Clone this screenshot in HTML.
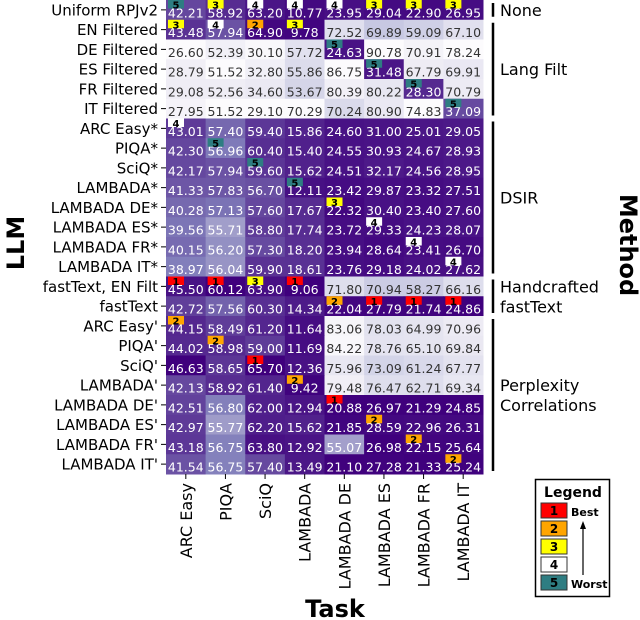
<!DOCTYPE html>
<html><head><meta charset="utf-8"><style>
body{margin:0;background:#fff;}
svg{display:block;font-family:"DejaVu Sans","Liberation Sans",sans-serif;}
</style></head><body>
<svg id="chart" width="640" height="620" viewBox="0 0 640 620"></svg>
<script>
const tasks=["ARC Easy","PIQA","SciQ","LAMBADA","LAMBADA DE","LAMBADA ES","LAMBADA FR","LAMBADA IT"];
const higherBetter=[true,true,true,false,false,false,false,false];
const models=["Uniform RPJv2","EN Filtered","DE Filtered","ES Filtered","FR Filtered","IT Filtered","ARC Easy*","PIQA*","SciQ*","LAMBADA*","LAMBADA DE*","LAMBADA ES*","LAMBADA FR*","LAMBADA IT*","fastText, EN Filt","fastText","ARC Easy'","PIQA'","SciQ'","LAMBADA'","LAMBADA DE'","LAMBADA ES'","LAMBADA FR'","LAMBADA IT'"];
const values=[
[42.21,58.92,63.20,10.77,23.95,29.04,22.90,26.95],
[43.48,57.94,64.90,9.78,72.52,69.89,59.09,67.10],
[26.60,52.39,30.10,57.72,24.63,90.78,70.91,78.24],
[28.79,51.52,32.80,55.86,86.75,31.48,67.79,69.91],
[29.08,52.56,34.60,53.67,80.39,80.22,28.30,70.79],
[27.95,51.52,29.10,70.29,70.24,80.90,74.83,37.09],
[43.01,57.40,59.40,15.86,24.60,31.00,25.01,29.05],
[42.30,56.96,60.40,15.40,24.55,30.93,24.67,28.93],
[42.17,57.94,59.60,15.62,24.51,32.17,24.56,28.95],
[41.33,57.83,56.70,12.11,23.42,29.87,23.32,27.51],
[40.28,57.13,57.60,17.67,22.32,30.40,23.40,27.60],
[39.56,55.71,58.80,17.74,23.72,29.33,24.23,28.07],
[40.15,56.20,57.30,18.20,23.94,28.64,23.41,26.70],
[38.97,56.04,59.90,18.61,23.76,29.18,24.02,27.62],
[45.50,60.12,63.90,9.06,71.80,70.94,58.27,66.16],
[42.72,57.56,60.30,14.34,22.04,27.79,21.74,24.86],
[44.15,58.49,61.20,11.64,83.06,78.03,64.99,70.96],
[44.02,58.98,59.00,11.69,84.22,78.76,65.10,69.84],
[46.63,58.65,65.70,12.36,75.96,73.09,61.24,67.77],
[42.13,58.92,61.40,9.42,79.48,76.47,62.71,69.34],
[42.51,56.80,62.00,12.94,20.88,26.97,21.29,24.85],
[42.97,55.77,62.20,15.62,21.85,28.59,22.96,26.31],
[43.18,56.75,63.80,12.92,55.07,26.98,22.15,25.64],
[41.54,56.75,57.40,13.49,21.10,27.28,21.33,25.24]];
// badges: [row, col, rank]
const badges=[[0,0,5],[0,1,3],[0,2,4],[0,3,4],[0,4,4],[0,5,3],[0,6,3],[0,7,3],
[1,0,3],[1,1,4],[1,2,2],[1,3,3],[2,4,5],[3,5,5],[4,6,5],[5,7,5],
[6,0,4],[7,1,5],[8,2,5],[9,3,5],[10,4,3],[11,5,4],[12,6,4],[13,7,4],
[14,0,1],[14,1,1],[14,2,3],[14,3,1],[15,4,2],[15,5,1],[15,6,1],[15,7,1],
[16,0,2],[17,1,2],[18,2,1],[19,3,2],[20,4,1],[21,5,2],[22,6,2],[23,7,2]];
const groups=[["None",0,0],["Lang Filt",1,5],["DSIR",6,13],["Handcrafted\nfastText",14,15],["Perplexity\nCorrelations",16,23]];
const rankColors={1:"#ff0000",2:"#ffa500",3:"#ffff00",4:"#ffffff",5:"#2e7d82"};

const NS="http://www.w3.org/2000/svg";
const svg=document.getElementById('chart');
const X0=166,X1=483,Y0=0,Y1=474;
const cw=(X1-X0)/tasks.length, rh=(Y1-Y0)/models.length;
const xPos=i=>X0+i*cw, yPos=j=>Y0+j*rh;
function el(tag,attrs,parent){const e=document.createElementNS(NS,tag);for(const k in attrs)e.setAttribute(k,attrs[k]);(parent||svg).appendChild(e);return e;}
const stops=["#fcfbfd","#efedf5","#dadaeb","#bcbddc","#9e9ac8","#807dba","#6a51a3","#54278f","#3f007d"];
function hex(c){return [1,3,5].map(i=>parseInt(c.substr(i,2),16));}
function cmap(t){t=Math.max(0,Math.min(1,t));const p=t*(stops.length-1);const i=Math.min(stops.length-2,Math.floor(p));const f=p-i;const a=hex(stops[i]),b=hex(stops[i+1]);return "rgb("+a.map((v,k)=>Math.round(v+(b[k]-v)*f)).join(",")+")";}
const colMin=tasks.map((_,c)=>Math.min(...values.map(r=>r[c])));
const colMax=tasks.map((_,c)=>Math.max(...values.map(r=>r[c])));
function norm(v,c){const t=(v-colMin[c])/(colMax[c]-colMin[c]);return higherBetter[c]?t:1-t;}

const gCells=el('g',{});


values.forEach((row,r)=>row.forEach((v,c)=>{
  const t=norm(v,c);
  const rect=el('rect',{x:xPos(c),y:yPos(r),width:cw+0.5,height:rh+0.5,fill:cmap(t)},gCells);
  
  
  const tx=el('text',{x:xPos(c)+cw/2,y:yPos(r)+rh-2.5,'text-anchor':'middle','font-size':12.5,fill:t>0.4?'#ffffff':'#333333'},gCells);
  
  
  tx.textContent=v.toFixed(2);
}));
badges.forEach(([r,c,k])=>{
  const g=el('g',{});
  
  
  el('rect',{x:xPos(c)+2,y:yPos(r),width:16,height:8.5,fill:rankColors[k]},g);
  const t=el('text',{x:xPos(c)+10,y:yPos(r)+8.5,'text-anchor':'middle','font-size':10,'font-weight':'bold',fill:'#000'},g);
  t.textContent=k;
});
// y axis labels
models.forEach((m,r)=>{
  const yc=yPos(r)+rh/2;
  el('line',{x1:161,x2:166,y1:yc,y2:yc,stroke:'#000','stroke-width':1});
  const t=el('text',{x:158,y:yc+5.5,'text-anchor':'end','font-size':15,fill:'#000'});
  
  
  t.textContent=m;
});
// x axis labels
tasks.forEach((n,c)=>{
  const xc=xPos(c)+cw/2;
  el('line',{x1:xc,x2:xc,y1:474,y2:479,stroke:'#000','stroke-width':1});
  const t=el('text',{x:0,y:0,'text-anchor':'end','font-size':16,fill:'#000',transform:`translate(${xc+6},483) rotate(-90)`});
  
  
  t.textContent=n;
});
// groups
groups.forEach(([name,a,b])=>{
  const g=el('g',{});
  
  
  el('line',{x1:493,x2:493,y1:yPos(a)+3,y2:yPos(b+1)-3,stroke:'#000','stroke-width':2.5},g);
  const lines=name.split('\n');const yc=(yPos(a)+yPos(b+1))/2;
  lines.forEach((ln,i)=>{const t=el('text',{x:500,y:yc+6+(i-(lines.length-1)/2)*20,'font-size':16,fill:'#000'},g);t.textContent=ln;});
});
const tl=el('text',{x:0,y:0,'text-anchor':'middle','font-size':24,'font-weight':'bold',transform:'translate(24,243) rotate(-90)'});
tl.textContent='LLM';
const tt=el('text',{x:335,y:617,'text-anchor':'middle','font-size':24,'font-weight':'bold'});
tt.textContent='Task';
const tm=el('text',{x:0,y:0,'text-anchor':'middle','font-size':24,'font-weight':'bold',transform:'translate(620,245) rotate(90)'});
tm.textContent='Method';
// legend
const lg=el('g',{});


el('rect',{x:535.5,y:479.5,width:74,height:117,fill:'#fff',stroke:'#000','stroke-width':1.5},lg);
const lt=el('text',{x:573,y:497,'text-anchor':'middle','font-size':14,'font-weight':'bold'},lg);lt.textContent='Legend';
[1,2,3,4,5].forEach((k,i)=>{
  const e=el('g',{},lg);
  
  
  el('rect',{x:541,y:503+i*18,width:26,height:15,fill:rankColors[k],stroke:'#333','stroke-width':1},e);
  const t=el('text',{x:554,y:515+i*18,'text-anchor':'middle','font-size':12,'font-weight':'bold'},e);t.textContent=k;
});
const lb=el('text',{x:571,y:516,'font-size':11,'font-weight':'bold'},lg);lb.textContent='Best';
const lw=el('text',{x:571,y:588,'font-size':11,'font-weight':'bold'},lg);lw.textContent='Worst';
el('line',{x1:583,x2:583,y1:575,y2:527,stroke:'#000','stroke-width':1.2},lg);
el('polygon',{points:'583,521 580,529 586,529',fill:'#000'},lg);
</script>
</body></html>
